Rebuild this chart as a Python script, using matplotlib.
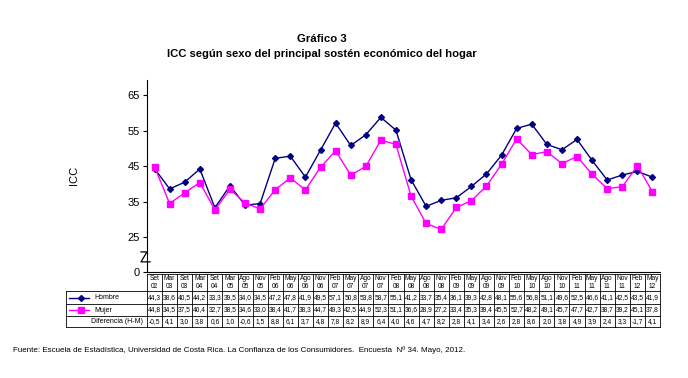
import matplotlib.pyplot as plt
from matplotlib.lines import Line2D

plt.rcParams['font.family'] = ['Liberation Sans', 'DejaVu Sans']

periodos = ['Set 02', 'Mar 03', 'Set 03', 'Mar 04', 'Set 04', 'Mar 05', 'Ago 05', 'Nov 05',
            'Feb 06', 'May 06', 'Ago 06', 'Nov 06', 'Feb 07', 'May 07', 'Ago 07', 'Nov 07',
            'Feb 08', 'May 08', 'Ago 08', 'Nov 08', 'Feb 09', 'May 09', 'Ago 09', 'Nov 09',
            'Feb 10', 'May 10', 'Ago 10', 'Nov 10', 'Feb 11', 'May 11', 'Ago 11', 'Nov 11',
            'Feb 12', 'May 12']
hombre = [44.3, 38.6, 40.5, 44.2, 33.3, 39.5, 34.0, 34.5, 47.2, 47.8, 41.9, 49.5, 57.1, 50.8,
          53.8, 58.7, 55.1, 41.2, 33.7, 35.4, 36.1, 39.3, 42.8, 48.1, 55.6, 56.8, 51.1, 49.6,
          52.5, 46.6, 41.1, 42.5, 43.5, 41.9]
mujer = [44.8, 34.5, 37.5, 40.4, 32.7, 38.5, 34.6, 33.0, 38.4, 41.7, 38.3, 44.7, 49.3, 42.5,
         44.9, 52.3, 51.1, 36.6, 28.9, 27.2, 33.4, 35.3, 39.4, 45.5, 52.7, 48.2, 49.1, 45.7,
         47.7, 42.7, 38.7, 39.2, 45.1, 37.8]
diferencia = [-0.5, 4.1, 3.0, 3.8, 0.6, 1.0, -0.6, 1.5, 8.8, 6.1, 3.7, 4.8, 7.8, 8.2, 8.9, 6.4,
              4.0, 4.6, 4.7, 8.2, 2.8, 4.1, 3.4, 2.6, 2.8, 8.6, 2.0, 3.8, 4.9, 3.9, 2.4, 3.3,
              -1.7, 4.1]
y_ticks = [15.34, 25, 35, 45, 55, 65]
y_labels = ['0', '25', '35', '45', '55', '65']

W, H = 688, 378
fig = plt.figure(figsize=(W / 100, H / 100), dpi=100)

def fx(px):
    return px / W

def fy(py):
    return 1 - py / H

left, right, top, bottom = 147, 660, 80, 271.7
ax = fig.add_axes([fx(left), fy(bottom), fx(right) - fx(left), fy(top) - fy(bottom)])

x = list(range(len(periodos)))
ax.plot(x, hombre, color='#000080', lw=1, marker='D', ms=3)
ax.plot(x, mujer, color='#FF00FF', lw=1, marker='s', ms=5)

ax.set_xlim(-0.5, len(periodos) - 0.5)
ax.set_ylim(15.34, 69.2)
ax.set_yticks(y_ticks)
ax.set_yticklabels(y_labels, fontsize=8)
ax.set_xticks([])
ax.spines['top'].set_visible(False)
ax.spines['right'].set_visible(False)
ax.tick_params(axis='y', length=3, width=0.8, pad=2)
ax.set_ylabel('ICC', fontsize=8, labelpad=35)

# axis break mark (Z shape)
ax.plot([-0.9, -0.5, -0.9, -0.3], [20.9, 20.9, 18.1, 18.1], color='black', lw=0.9, clip_on=False)

# titles
fig.text(fx(322), fy(39), 'Gráfico 3', ha='center', va='center', fontsize=8.2, fontweight='bold')
fig.text(fx(322), fy(54), 'ICC según sexo del principal sostén económico del hogar',
         ha='center', va='center', fontsize=8.1, fontweight='bold')
fig.text(fx(13), fy(350), 'Fuente: Escuela de Estadística, Universidad de Costa Rica. La Confianza de los '
         'Consumidores.  Encuesta  Nº 34. Mayo, 2012.', ha='left', va='center', fontsize=5.75)

# data table below the plot
rows_y = [274, 291, 304, 315.5, 327]
col_w = (right - left) / len(periodos)
lc = dict(color='black', lw=0.6)
for yy in rows_y:
    fig.add_artist(Line2D([fx(left), fx(right)], [fy(yy), fy(yy)], **lc))
for yy in rows_y[1:]:
    fig.add_artist(Line2D([fx(66), fx(left)], [fy(yy), fy(yy)], **lc))
fig.add_artist(Line2D([fx(66), fx(66)], [fy(291), fy(327)], **lc))
for i in range(len(periodos) + 1):
    xx = left + i * col_w
    fig.add_artist(Line2D([fx(xx), fx(xx)], [fy(rows_y[0]), fy(rows_y[-1])], **lc))

fmt = lambda v: f'{v:.1f}'.replace('.', ',')
for i, p in enumerate(periodos):
    cx = fx(left + (i + 0.5) * col_w)
    fig.text(cx, fy(282.5), p.replace(' ', '\n'), ha='center', va='center', fontsize=4.8, linespacing=1.3)
    fig.text(cx, fy(297.5), fmt(hombre[i]), ha='center', va='center', fontsize=4.8)
    fig.text(cx, fy(310), fmt(mujer[i]), ha='center', va='center', fontsize=4.8)
    fig.text(cx, fy(321.5), fmt(diferencia[i]), ha='center', va='center', fontsize=4.8)

fig.add_artist(Line2D([fx(69), fx(81), fx(89)], [fy(297.5)] * 3, color='#000080', lw=1,
                      marker='D', ms=3, markevery=[1]))
fig.add_artist(Line2D([fx(69), fx(81), fx(89)], [fy(310)] * 3, color='#FF00FF', lw=1,
                      marker='s', ms=4.5, markevery=[1]))
fig.text(fx(94), fy(297.5), 'Hombre', ha='left', va='center', fontsize=5)
fig.text(fx(94), fy(310), 'Mujer', ha='left', va='center', fontsize=5)
fig.text(fx(143), fy(321.5), 'Diferencia (H-M)', ha='right', va='center', fontsize=5)

fig.savefig('out.png', dpi=100, facecolor='white')
